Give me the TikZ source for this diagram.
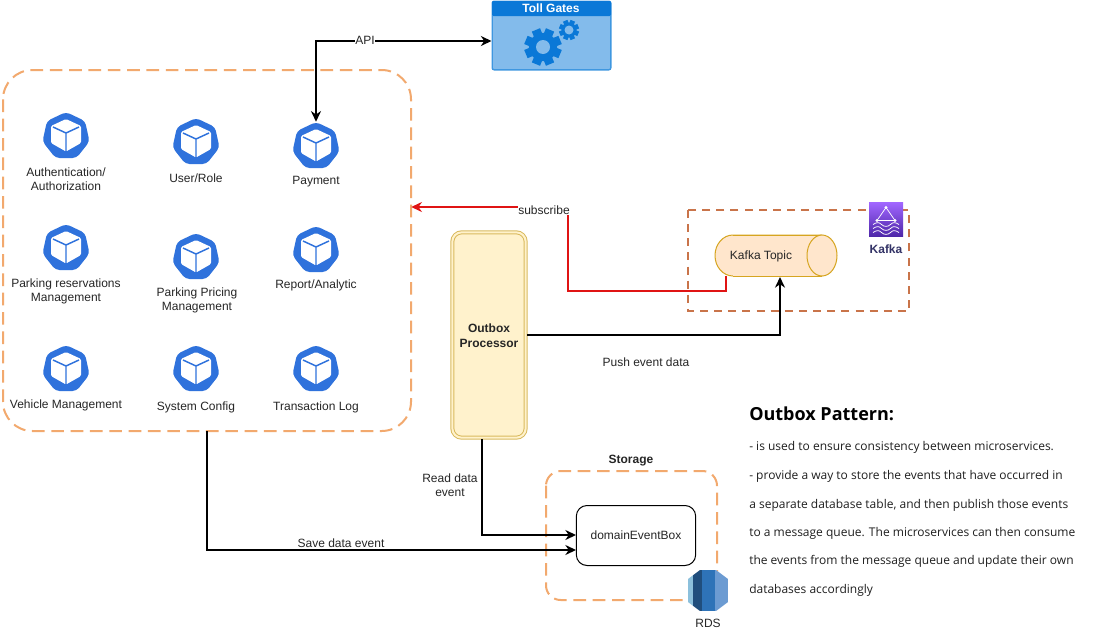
\documentclass[tikz,border=0pt]{standalone}
\usepackage{fontspec}
\setmainfont{Liberation Sans}
\newfontfamily\notefont{Open Sans}
\usetikzlibrary{arrows.meta,calc}
\definecolor{kblue}{HTML}{2F72DC}
\definecolor{grouporange}{HTML}{F2A96E}
\definecolor{kafkaorange}{HTML}{C9744A}
\definecolor{hdrblue}{HTML}{0A78D7}
\definecolor{bodyblue}{HTML}{83BBEB}
\definecolor{edgeblue}{HTML}{3F97E0}
\definecolor{gearblue}{HTML}{0A78D7}
\definecolor{cylfill}{HTML}{FFE6CC}
\definecolor{cyledge}{HTML}{D6A520}
\definecolor{procfill}{HTML}{FFF2CC}
\definecolor{procedge}{HTML}{D9BA5E}
\definecolor{linkred}{HTML}{E01414}
\definecolor{purpleA}{HTML}{4D27A8}
\definecolor{purpleB}{HTML}{A166FF}
\tikzset{
  x=0.75pt,y=-0.75pt,
  lbl/.style={font=\fontsize{9pt}{10.6pt}\selectfont,align=center,inner sep=0pt,text=black!85},
  boldlbl/.style={lbl,font=\fontsize{9pt}{11pt}\selectfont\bfseries},
  conn/.style={draw=black,line width=1.5pt,-{Stealth[length=8pt,width=7.5pt]}},
  groupbox/.style={draw=grouporange,line width=1.5pt,dash pattern=on 9.5pt off 5pt},
  iconnode/.style={circle,minimum size=36pt,inner sep=0pt},
  note/.style={anchor=west,inner sep=0pt,font=\notefont\fontsize{9pt}{11pt}\selectfont,text=black!88}
}
\newcommand{\kube}[3]{%
  \node[iconnode] (#1) at (#2,#3) {};
  \begin{scope}[shift={(#2,#3)}]
    \fill[kblue,rounded corners=3pt] (0,-24) -- (19,-15) -- (23.5,5.5) -- (10.5,22) -- (-10.5,22) -- (-23.5,5.5) -- (-19,-15) -- cycle;
    \fill[white,rounded corners=1pt] (0,-17) -- (15,-10) -- (15,7) -- (0,15.5) -- (-15,7) -- (-15,-10) -- cycle;
    \draw[kblue,line width=1.1pt,line join=round] (-13,-9) -- (0,-3) -- (13,-9) (0,-3) -- (0,15);
  \end{scope}}
\newcommand{\gearicon}[4]{%
  \begin{scope}[shift={(#1,#2)}]
    \fill[gearblue] (0,0) circle ({0.76*#3});
    \foreach \a in {0,45,90,135}
      \fill[gearblue,rotate=\a+22.5] ({-0.24*#3},{-#3}) rectangle ({0.24*#3},{#3});
    \fill[bodyblue] (0,0) circle (#4);
  \end{scope}}
\begin{document}
\begin{tikzpicture}
\useasboundingbox (0,0) rectangle (1111,632);
\fill[white] (0,0) rectangle (1111,632);

% service group
\draw[groupbox,rounded corners=22pt] (3,70) rectangle (411,431);
\node[inner sep=0pt,minimum width=306pt,minimum height=270.75pt] (services) at (207,250.5) {};

% Kubernetes services
\kube{auth}{66}{136}
\kube{user}{196}{142}
\kube{pay}{316}{146}
\kube{park}{66}{248}
\kube{price}{196}{257}
\kube{report}{316}{250}
\kube{vehicle}{66}{369}
\kube{config}{196}{369}
\kube{txlog}{316}{369}
\node[lbl] (lauth) at (66,179) {Authentication/\\Authorization};
\node[lbl] (luser) at (196,178) {User/Role};
\node[lbl] (lpay) at (316,182) {Payment};
\node[lbl] (lpark) at (66,291) {Parking reservations\\Management};
\node[lbl] (lprice) at (197,300) {Parking Pricing\\Management};
\node[lbl] (lreport) at (316,285) {Report/Analytic};
\node[lbl] (lvehicle) at (66,405) {Vehicle Management};
\node[lbl] (lconfig) at (196,407) {System Config};
\node[lbl] (ltxlog) at (316,407) {Transaction Log};

% Toll Gates
\node[draw=edgeblue,line width=1pt,fill=bodyblue,rounded corners=1.5pt,minimum width=89pt,minimum height=51.5pt,inner sep=0pt] (toll) at (551.5,35.5) {};
\fill[hdrblue,rounded corners=1pt] (492,1) rectangle (611,16);
\node[font=\fontsize{9pt}{10pt}\selectfont\bfseries,text=white,inner sep=0pt] (ltoll) at (551,8) {Toll Gates};
\gearicon{543}{47}{18.5}{7}
\gearicon{569}{30}{10}{4.5}

% Kafka
\draw[kafkaorange,line width=1.5pt,dash pattern=on 6pt off 4.6pt] (688,210) rectangle (909,311);
\node[inner sep=0pt,minimum width=91.5pt,minimum height=30.75pt] (kafka) at (776,255.5) {};
\draw[cyledge,fill=cylfill,line width=0.75pt] (822,235) -- (733,235) arc[start angle=-90,end angle=-270,x radius=18,y radius=20.5] -- (822,276);
\fill[cylfill] (733,235) rectangle (822,276);
\draw[cyledge,line width=0.75pt] (733,235) -- (822,235) (733,276) -- (822,276);
\draw[cyledge,fill=cylfill,line width=0.75pt] (822,255.5) ellipse[x radius=15,y radius=20.5];
\node[lbl] (lkafka) at (761,256) {Kafka Topic};
\node[inner sep=0pt,minimum size=25.5pt,bottom color=purpleA,top color=purpleB] (kicon) at (886,219.5) {};
\begin{scope}[shift={(886,219.5)},white,line width=0.55pt]
  \draw[line join=round] (0,-12) -- (-9,1) -- (9,1) -- cycle;
  \fill (0,-12) circle (1.7) (-9,1) circle (1.7) (9,1) circle (1.7);
  \foreach \yy in {5,9,13}
    \draw (-13,\yy) .. controls (-9,\yy-2.5) and (-7,\yy-2.5) .. (-4.5,\yy) .. controls (-2,\yy+2.5) and (2,\yy+2.5) .. (4.5,\yy) .. controls (7,\yy-2.5) and (9,\yy-2.5) .. (13,\yy);
\end{scope}
\node[lbl,font=\fontsize{9pt}{10pt}\selectfont\bfseries,text=black!75!blue!80] (lkicon) at (886,249) {Kafka};

% Outbox Processor
\node[draw=procedge,fill=procfill,line width=0.75pt,double=procfill,double distance=1.5pt,rounded corners=7pt,minimum width=55pt,minimum height=154pt,inner sep=0pt] (outbox) at (489,335) {};
\node[boldlbl] (loutbox) at (489,335.5) {Outbox\\Processor};

% Storage
\draw[groupbox,rounded corners=11pt] (546,471) rectangle (717,600);
\node[boldlbl] (lstorage) at (631,461) {Storage};
\node[draw=black,line width=0.75pt,fill=white,rounded corners=8pt,minimum width=89.5pt,minimum height=45pt,inner sep=0pt] (box) at (636,535.5) {};
\node[lbl] (lbox) at (636,535) {domainEventBox};

% RDS icon
\coordinate (rdsc) at (708,590.5);
\begin{scope}
  \clip (700,570) -- (716,570) -- (728,579) -- (728,602) -- (716,611) -- (700,611) -- (688,602) -- (688,579) -- cycle;
  \fill[white] (688,570) rectangle (728,611);
  \fill[fill=black!55!blue!55!cyan!45] (688,570) rectangle (693,611);
  \fill[fill={rgb,255:red,32;green,78;blue,125}] (693,570) rectangle (702,611);
  \fill[fill={rgb,255:red,46;green,115;blue,184}] (702,570) rectangle (715,611);
  \fill[fill={rgb,255:red,108;green,155;blue,210}] (715,570) rectangle (728,611);
\end{scope}
\node[inner sep=0pt,minimum width=30pt,minimum height=30.75pt] (rds) at (rdsc) {};
\node[lbl] (lrds) at (708,623) {RDS};

% Connectors
\coordinate (apibend) at (316,41);
\draw[conn,{Stealth[length=8pt,width=7.5pt]}-{Stealth[length=8pt,width=7.5pt]}] (pay.north) -- (apibend) -- (toll.west |- apibend);
\node[lbl,fill=white,inner sep=0.5pt] (lapi) at (365,40) {API};

\coordinate (redA) at (726,276);
\coordinate (redB) at (726,291);
\coordinate (redC) at (568,291);
\coordinate (redD) at (568,207);
\draw[linkred,line width=1.5pt,-{Stealth[length=8pt,width=7.5pt]}] (redA) -- (redB) -- (redC) -- (redD) -- (services.east |- redD);
\node[lbl,fill=white,inner sep=0.5pt] (lsub) at (544,210) {subscribe};

\coordinate (kin) at (780,277);
\coordinate (outr) at (527,335);
\draw[conn] (outr) -| (kin);
\node[lbl] (lpush) at (646,362) {Push event data};

\coordinate (readA) at (482,439);
\coordinate (readB) at (576,535);
\draw[conn] (readA) |- (readB);
\node[lbl] (lread) at (450,485) {Read data\\event};

\coordinate (saveA) at (207,431);
\coordinate (saveB) at (576,550);
\draw[conn] (saveA) |- (saveB);
\node[lbl] (lsave) at (341,543) {Save data event};

% Note
\node[note,font=\notefont\fontsize{13.5pt}{16pt}\selectfont\bfseries,text=black] (ntitle) at (749,414) {Outbox Pattern:};
\node[note] (n1) at (749,447) {- is used to ensure consistency between microservices.};
\node[note] (n2) at (749,476) {- provide a way to store the events that have occurred in};
\node[note] (n3) at (749,505) {a separate database table, and then publish those events};
\node[note] (n4) at (749,533) {to a message queue. The microservices can then consume};
\node[note] (n5) at (749,561) {the events from the message queue and update their own};
\node[note] (n6) at (749,590) {databases accordingly};
\end{tikzpicture}
\end{document}
